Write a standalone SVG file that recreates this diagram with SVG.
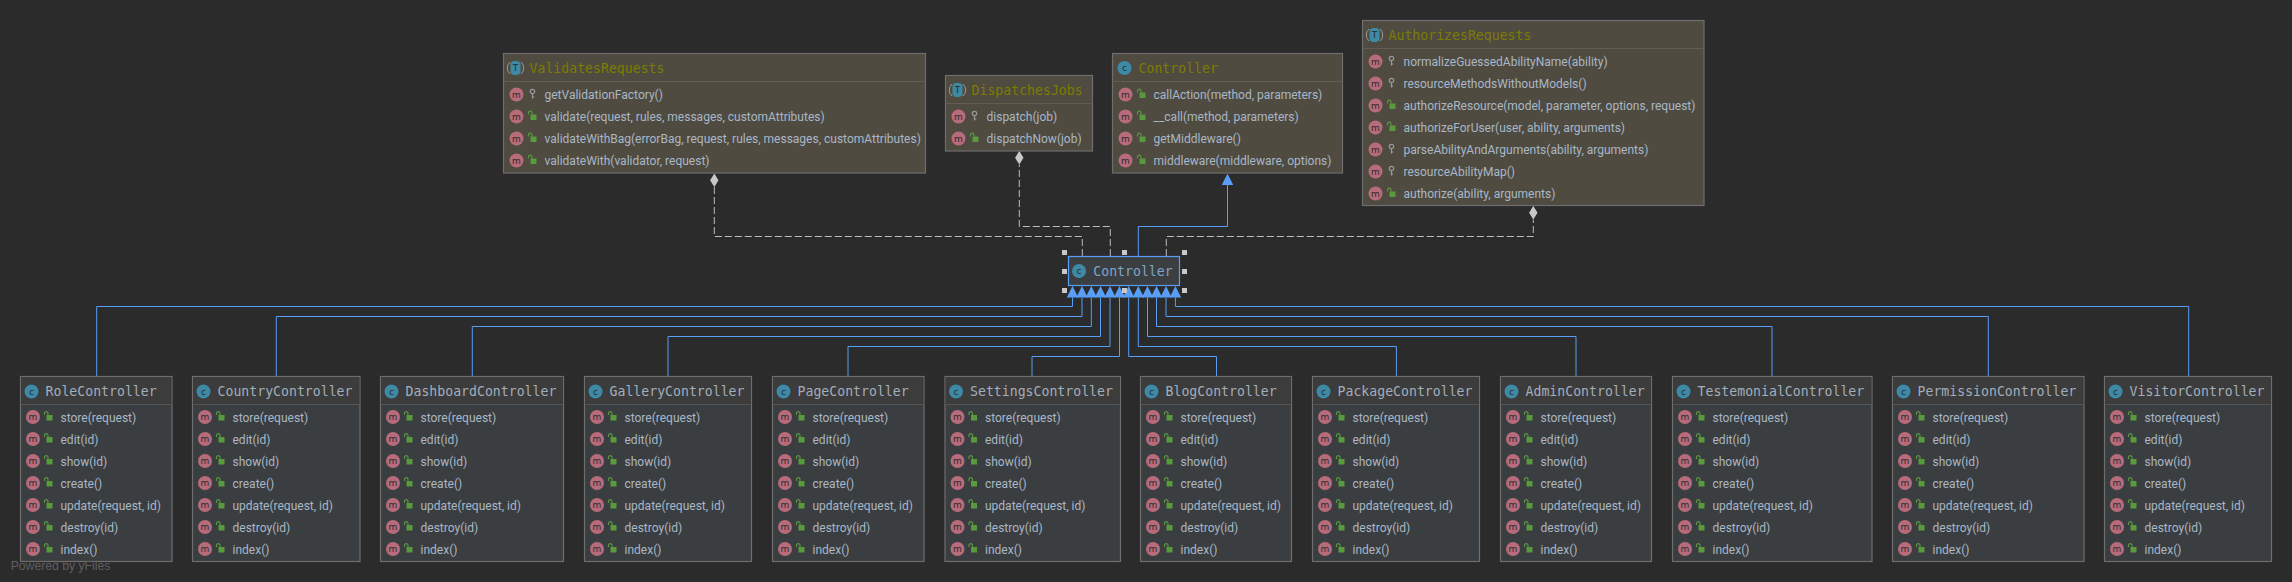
<svg xmlns="http://www.w3.org/2000/svg" width="2292" height="582" viewBox="0 0 2292 582">
<style>
.bg{fill:#2b2b2b}
.box{stroke:#6e6e6e;stroke-width:1.2;fill:#3b3e40}
.head{fill:#3c3c3c}
.sep{stroke:#555;stroke-width:1}
.tbox{stroke:#6e6e6e;stroke-width:1.2;fill:#4f4b41}
.thead{fill:#504c41}
.tsep{stroke:#615d53;stroke-width:1}
.title{font-family:"DejaVu Sans Mono","Liberation Mono",monospace;font-size:13.2px;fill:#a2aebb}
.ttitle{font-family:"DejaVu Sans Mono","Liberation Mono",monospace;font-size:13.2px;fill:#7c7c00}
.row{font-family:Roboto,"Open Sans",sans-serif;font-size:12px;fill:#a9b7c6}
.ic{font-family:"DejaVu Sans",sans-serif;font-size:9px;fill:#2b2b2b;text-anchor:middle}
.inh{fill:none;stroke:#589df6;stroke-width:1;marker-end:url(#tri)}
.dep{fill:none;stroke:#bcbcbc;stroke-width:1;stroke-dasharray:7 3;marker-end:url(#dia)}
.h{fill:#c8c8c8}
</style>
<defs>
<marker id="tri" markerUnits="userSpaceOnUse" markerWidth="11.5" markerHeight="11.4" refX="0" refY="5.7" orient="auto"><path d="M0,0L11.4,5.7L0,11.4z" fill="#589df6"/></marker>
<marker id="dia" markerUnits="userSpaceOnUse" markerWidth="14" markerHeight="9" refX="0" refY="4.2" orient="auto"><path d="M0,4.2L6.8,0L13.6,4.2L6.8,8.4z" fill="#c8c8c8"/></marker>
<g id="m"><circle r="7" fill="#b86b7a"/><text class="ic" y="3">m</text></g>
<g id="c"><circle r="7" fill="#3d89a6"/><text class="ic" y="3">c</text></g>
<g id="t"><path d="M-5.5,-6A8,8 0 0 0 -5.5,6M5.5,-6A8,8 0 0 1 5.5,6" fill="none" stroke="#9a9a9a" stroke-width="1"/><rect x="-5" y="-7" width="10" height="14" rx="4" fill="#3d89a6"/><text class="ic" y="3">T</text></g>
<g id="l"><rect x="-2" y="-2" width="6" height="5.5" fill="#5a9a3f"/><path d="M-0.5,-2V-4A1.8,1.8 0 0 0 -4,-4V-2" fill="none" stroke="#5a9a3f" stroke-width="1.1"/></g>
<g id="k"><circle cy="-3" r="2.2" fill="none" stroke="#9a9a9a" stroke-width="1.2"/><path d="M0,-1V4M0,2.5H1.8" fill="none" stroke="#9a9a9a" stroke-width="1.2"/></g>
</defs>
<rect class="bg" width="2292" height="582"/>
<g id="connectors">
<path class="inh" d="M96.7,376V306.5H1072.5V297.5"/>
<path class="inh" d="M276.3,376V316.5H1082V297.5"/>
<path class="inh" d="M472.3,376V326.5H1091.3V297.5"/>
<path class="inh" d="M668,376V336.5H1100.5V297.5"/>
<path class="inh" d="M848,376V346.5H1110V297.5"/>
<path class="inh" d="M1032,376V356.5H1119.5V297.5"/>
<path class="inh" d="M1216.5,376V356.5H1128.7V297.5"/>
<path class="inh" d="M1396.4,376V346.5H1138.3V297.5"/>
<path class="inh" d="M1576,376V336.5H1147.5V297.5"/>
<path class="inh" d="M1772,376V326.5H1156.5V297.5"/>
<path class="inh" d="M1988.3,376V316.5H1166V297.5"/>
<path class="inh" d="M2188.7,376V306.5H1175.4V297.5"/>
<path class="inh" d="M1138.3,256V226.5H1227.5V185"/>
<path class="dep" d="M1082.3,256V236.5H714.3V187"/>
<path class="dep" d="M1110.3,256V226.5H1019.3V164.5"/>
<path class="dep" d="M1166.3,256V236.5H1533.3V219.5"/>
</g>
<g id="ValidatesRequests" transform="translate(503.5,53.5)">
<rect class="tbox" width="422" height="119.5"/><line class="tsep" x1="0" x2="422" y1="28" y2="28"/>
<use href="#t" x="12" y="14.5"/><text class="ttitle" x="26" y="19.5">ValidatesRequests</text>
<use href="#m" x="13" y="41"/><use href="#k" x="29" y="41"/><text class="row" x="41" y="45.5">getValidationFactory()</text>
<use href="#m" x="13" y="63"/><use href="#l" x="29" y="63"/><text class="row" x="41" y="67.5">validate(request, rules, messages, customAttributes)</text>
<use href="#m" x="13" y="85"/><use href="#l" x="29" y="85"/><text class="row" x="41" y="89.5">validateWithBag(errorBag, request, rules, messages, customAttributes)</text>
<use href="#m" x="13" y="107"/><use href="#l" x="29" y="107"/><text class="row" x="41" y="111.5">validateWith(validator, request)</text>
</g>
<g id="DispatchesJobs" transform="translate(945.5,75.5)">
<rect class="tbox" width="147" height="75.5"/><line class="tsep" x1="0" x2="147" y1="28" y2="28"/>
<use href="#t" x="12" y="14.5"/><text class="ttitle" x="26" y="19.5">DispatchesJobs</text>
<use href="#m" x="13" y="41"/><use href="#k" x="29" y="41"/><text class="row" x="41" y="45.5">dispatch(job)</text>
<use href="#m" x="13" y="63"/><use href="#l" x="29" y="63"/><text class="row" x="41" y="67.5">dispatchNow(job)</text>
</g>
<g id="ControllerBase" transform="translate(1112.5,53.5)">
<rect class="tbox" width="230" height="119.5"/><line class="tsep" x1="0" x2="230" y1="28" y2="28"/>
<use href="#c" x="12" y="14.5"/><text class="ttitle" x="26" y="19.5">Controller</text>
<use href="#m" x="13" y="41"/><use href="#l" x="29" y="41"/><text class="row" x="41" y="45.5">callAction(method, parameters)</text>
<use href="#m" x="13" y="63"/><use href="#l" x="29" y="63"/><text class="row" x="41" y="67.5">__call(method, parameters)</text>
<use href="#m" x="13" y="85"/><use href="#l" x="29" y="85"/><text class="row" x="41" y="89.5">getMiddleware()</text>
<use href="#m" x="13" y="107"/><use href="#l" x="29" y="107"/><text class="row" x="41" y="111.5">middleware(middleware, options)</text>
</g>
<g id="AuthorizesRequests" transform="translate(1362.5,20.5)">
<rect class="tbox" width="341.5" height="185"/><line class="tsep" x1="0" x2="341.5" y1="28" y2="28"/>
<use href="#t" x="12" y="14.5"/><text class="ttitle" x="26" y="19.5">AuthorizesRequests</text>
<use href="#m" x="13" y="41"/><use href="#k" x="29" y="41"/><text class="row" x="41" y="45.5">normalizeGuessedAbilityName(ability)</text>
<use href="#m" x="13" y="63"/><use href="#k" x="29" y="63"/><text class="row" x="41" y="67.5">resourceMethodsWithoutModels()</text>
<use href="#m" x="13" y="85"/><use href="#l" x="29" y="85"/><text class="row" x="41" y="89.5">authorizeResource(model, parameter, options, request)</text>
<use href="#m" x="13" y="107"/><use href="#l" x="29" y="107"/><text class="row" x="41" y="111.5">authorizeForUser(user, ability, arguments)</text>
<use href="#m" x="13" y="129"/><use href="#k" x="29" y="129"/><text class="row" x="41" y="133.5">parseAbilityAndArguments(ability, arguments)</text>
<use href="#m" x="13" y="151"/><use href="#k" x="29" y="151"/><text class="row" x="41" y="155.5">resourceAbilityMap()</text>
<use href="#m" x="13" y="173"/><use href="#l" x="29" y="173"/><text class="row" x="41" y="177.5">authorize(ability, arguments)</text>
</g>
<g id="Controller">
<rect x="1068.5" y="256.5" width="111" height="29" fill="#3c3f41" stroke="#589df6" stroke-width="1.2"/>
<use href="#c" x="1079" y="271"/>
<text class="title" x="1093.3" y="276" style="fill:#7ea5c8">Controller</text>
<rect class="h" x="1062" y="250" width="5" height="5"/><rect class="h" x="1122" y="250" width="5" height="5"/><rect class="h" x="1182" y="250" width="5" height="5"/>
<rect class="h" x="1062" y="269" width="5" height="5"/><rect class="h" x="1182" y="269" width="5" height="5"/>
<rect class="h" x="1062" y="288" width="5" height="5"/><rect class="h" x="1122" y="288" width="5" height="5"/><rect class="h" x="1182" y="288" width="5" height="5"/>
</g>
<g id="RoleController" transform="translate(20.5,376.5)">
<rect class="box" width="151.5" height="185"/><rect class="head" x="0.6" y="0.6" width="150.3" height="27"/><line class="sep" x1="0" x2="151.5" y1="28" y2="28"/>
<use href="#c" x="11" y="15"/><text class="title" x="25" y="19.5">RoleController</text>
<use href="#m" x="12.5" y="40.5"/><use href="#l" x="28" y="40.5"/><text class="row" x="40" y="45.5">store(request)</text>
<use href="#m" x="12.5" y="62.5"/><use href="#l" x="28" y="62.5"/><text class="row" x="40" y="67.5">edit(id)</text>
<use href="#m" x="12.5" y="84.5"/><use href="#l" x="28" y="84.5"/><text class="row" x="40" y="89.5">show(id)</text>
<use href="#m" x="12.5" y="106.5"/><use href="#l" x="28" y="106.5"/><text class="row" x="40" y="111.5">create()</text>
<use href="#m" x="12.5" y="128.5"/><use href="#l" x="28" y="128.5"/><text class="row" x="40" y="133.5">update(request, id)</text>
<use href="#m" x="12.5" y="150.5"/><use href="#l" x="28" y="150.5"/><text class="row" x="40" y="155.5">destroy(id)</text>
<use href="#m" x="12.5" y="172.5"/><use href="#l" x="28" y="172.5"/><text class="row" x="40" y="177.5">index()</text>
</g>
<g id="CountryController" transform="translate(192.5,376.5)">
<rect class="box" width="167.5" height="185"/><rect class="head" x="0.6" y="0.6" width="166.3" height="27"/><line class="sep" x1="0" x2="167.5" y1="28" y2="28"/>
<use href="#c" x="11" y="15"/><text class="title" x="25" y="19.5">CountryController</text>
<use href="#m" x="12.5" y="40.5"/><use href="#l" x="28" y="40.5"/><text class="row" x="40" y="45.5">store(request)</text>
<use href="#m" x="12.5" y="62.5"/><use href="#l" x="28" y="62.5"/><text class="row" x="40" y="67.5">edit(id)</text>
<use href="#m" x="12.5" y="84.5"/><use href="#l" x="28" y="84.5"/><text class="row" x="40" y="89.5">show(id)</text>
<use href="#m" x="12.5" y="106.5"/><use href="#l" x="28" y="106.5"/><text class="row" x="40" y="111.5">create()</text>
<use href="#m" x="12.5" y="128.5"/><use href="#l" x="28" y="128.5"/><text class="row" x="40" y="133.5">update(request, id)</text>
<use href="#m" x="12.5" y="150.5"/><use href="#l" x="28" y="150.5"/><text class="row" x="40" y="155.5">destroy(id)</text>
<use href="#m" x="12.5" y="172.5"/><use href="#l" x="28" y="172.5"/><text class="row" x="40" y="177.5">index()</text>
</g>
<g id="DashboardController" transform="translate(380.5,376.5)">
<rect class="box" width="183" height="185"/><rect class="head" x="0.6" y="0.6" width="181.8" height="27"/><line class="sep" x1="0" x2="183" y1="28" y2="28"/>
<use href="#c" x="11" y="15"/><text class="title" x="25" y="19.5">DashboardController</text>
<use href="#m" x="12.5" y="40.5"/><use href="#l" x="28" y="40.5"/><text class="row" x="40" y="45.5">store(request)</text>
<use href="#m" x="12.5" y="62.5"/><use href="#l" x="28" y="62.5"/><text class="row" x="40" y="67.5">edit(id)</text>
<use href="#m" x="12.5" y="84.5"/><use href="#l" x="28" y="84.5"/><text class="row" x="40" y="89.5">show(id)</text>
<use href="#m" x="12.5" y="106.5"/><use href="#l" x="28" y="106.5"/><text class="row" x="40" y="111.5">create()</text>
<use href="#m" x="12.5" y="128.5"/><use href="#l" x="28" y="128.5"/><text class="row" x="40" y="133.5">update(request, id)</text>
<use href="#m" x="12.5" y="150.5"/><use href="#l" x="28" y="150.5"/><text class="row" x="40" y="155.5">destroy(id)</text>
<use href="#m" x="12.5" y="172.5"/><use href="#l" x="28" y="172.5"/><text class="row" x="40" y="177.5">index()</text>
</g>
<g id="GalleryController" transform="translate(584.5,376.5)">
<rect class="box" width="167" height="185"/><rect class="head" x="0.6" y="0.6" width="165.8" height="27"/><line class="sep" x1="0" x2="167" y1="28" y2="28"/>
<use href="#c" x="11" y="15"/><text class="title" x="25" y="19.5">GalleryController</text>
<use href="#m" x="12.5" y="40.5"/><use href="#l" x="28" y="40.5"/><text class="row" x="40" y="45.5">store(request)</text>
<use href="#m" x="12.5" y="62.5"/><use href="#l" x="28" y="62.5"/><text class="row" x="40" y="67.5">edit(id)</text>
<use href="#m" x="12.5" y="84.5"/><use href="#l" x="28" y="84.5"/><text class="row" x="40" y="89.5">show(id)</text>
<use href="#m" x="12.5" y="106.5"/><use href="#l" x="28" y="106.5"/><text class="row" x="40" y="111.5">create()</text>
<use href="#m" x="12.5" y="128.5"/><use href="#l" x="28" y="128.5"/><text class="row" x="40" y="133.5">update(request, id)</text>
<use href="#m" x="12.5" y="150.5"/><use href="#l" x="28" y="150.5"/><text class="row" x="40" y="155.5">destroy(id)</text>
<use href="#m" x="12.5" y="172.5"/><use href="#l" x="28" y="172.5"/><text class="row" x="40" y="177.5">index()</text>
</g>
<g id="PageController" transform="translate(772.5,376.5)">
<rect class="box" width="151.5" height="185"/><rect class="head" x="0.6" y="0.6" width="150.3" height="27"/><line class="sep" x1="0" x2="151.5" y1="28" y2="28"/>
<use href="#c" x="11" y="15"/><text class="title" x="25" y="19.5">PageController</text>
<use href="#m" x="12.5" y="40.5"/><use href="#l" x="28" y="40.5"/><text class="row" x="40" y="45.5">store(request)</text>
<use href="#m" x="12.5" y="62.5"/><use href="#l" x="28" y="62.5"/><text class="row" x="40" y="67.5">edit(id)</text>
<use href="#m" x="12.5" y="84.5"/><use href="#l" x="28" y="84.5"/><text class="row" x="40" y="89.5">show(id)</text>
<use href="#m" x="12.5" y="106.5"/><use href="#l" x="28" y="106.5"/><text class="row" x="40" y="111.5">create()</text>
<use href="#m" x="12.5" y="128.5"/><use href="#l" x="28" y="128.5"/><text class="row" x="40" y="133.5">update(request, id)</text>
<use href="#m" x="12.5" y="150.5"/><use href="#l" x="28" y="150.5"/><text class="row" x="40" y="155.5">destroy(id)</text>
<use href="#m" x="12.5" y="172.5"/><use href="#l" x="28" y="172.5"/><text class="row" x="40" y="177.5">index()</text>
</g>
<g id="SettingsController" transform="translate(945,376.5)">
<rect class="box" width="175.5" height="185"/><rect class="head" x="0.6" y="0.6" width="174.3" height="27"/><line class="sep" x1="0" x2="175.5" y1="28" y2="28"/>
<use href="#c" x="11" y="15"/><text class="title" x="25" y="19.5">SettingsController</text>
<use href="#m" x="12.5" y="40.5"/><use href="#l" x="28" y="40.5"/><text class="row" x="40" y="45.5">store(request)</text>
<use href="#m" x="12.5" y="62.5"/><use href="#l" x="28" y="62.5"/><text class="row" x="40" y="67.5">edit(id)</text>
<use href="#m" x="12.5" y="84.5"/><use href="#l" x="28" y="84.5"/><text class="row" x="40" y="89.5">show(id)</text>
<use href="#m" x="12.5" y="106.5"/><use href="#l" x="28" y="106.5"/><text class="row" x="40" y="111.5">create()</text>
<use href="#m" x="12.5" y="128.5"/><use href="#l" x="28" y="128.5"/><text class="row" x="40" y="133.5">update(request, id)</text>
<use href="#m" x="12.5" y="150.5"/><use href="#l" x="28" y="150.5"/><text class="row" x="40" y="155.5">destroy(id)</text>
<use href="#m" x="12.5" y="172.5"/><use href="#l" x="28" y="172.5"/><text class="row" x="40" y="177.5">index()</text>
</g>
<g id="BlogController" transform="translate(1140.5,376.5)">
<rect class="box" width="151" height="185"/><rect class="head" x="0.6" y="0.6" width="149.8" height="27"/><line class="sep" x1="0" x2="151" y1="28" y2="28"/>
<use href="#c" x="11" y="15"/><text class="title" x="25" y="19.5">BlogController</text>
<use href="#m" x="12.5" y="40.5"/><use href="#l" x="28" y="40.5"/><text class="row" x="40" y="45.5">store(request)</text>
<use href="#m" x="12.5" y="62.5"/><use href="#l" x="28" y="62.5"/><text class="row" x="40" y="67.5">edit(id)</text>
<use href="#m" x="12.5" y="84.5"/><use href="#l" x="28" y="84.5"/><text class="row" x="40" y="89.5">show(id)</text>
<use href="#m" x="12.5" y="106.5"/><use href="#l" x="28" y="106.5"/><text class="row" x="40" y="111.5">create()</text>
<use href="#m" x="12.5" y="128.5"/><use href="#l" x="28" y="128.5"/><text class="row" x="40" y="133.5">update(request, id)</text>
<use href="#m" x="12.5" y="150.5"/><use href="#l" x="28" y="150.5"/><text class="row" x="40" y="155.5">destroy(id)</text>
<use href="#m" x="12.5" y="172.5"/><use href="#l" x="28" y="172.5"/><text class="row" x="40" y="177.5">index()</text>
</g>
<g id="PackageController" transform="translate(1312.5,376.5)">
<rect class="box" width="167" height="185"/><rect class="head" x="0.6" y="0.6" width="165.8" height="27"/><line class="sep" x1="0" x2="167" y1="28" y2="28"/>
<use href="#c" x="11" y="15"/><text class="title" x="25" y="19.5">PackageController</text>
<use href="#m" x="12.5" y="40.5"/><use href="#l" x="28" y="40.5"/><text class="row" x="40" y="45.5">store(request)</text>
<use href="#m" x="12.5" y="62.5"/><use href="#l" x="28" y="62.5"/><text class="row" x="40" y="67.5">edit(id)</text>
<use href="#m" x="12.5" y="84.5"/><use href="#l" x="28" y="84.5"/><text class="row" x="40" y="89.5">show(id)</text>
<use href="#m" x="12.5" y="106.5"/><use href="#l" x="28" y="106.5"/><text class="row" x="40" y="111.5">create()</text>
<use href="#m" x="12.5" y="128.5"/><use href="#l" x="28" y="128.5"/><text class="row" x="40" y="133.5">update(request, id)</text>
<use href="#m" x="12.5" y="150.5"/><use href="#l" x="28" y="150.5"/><text class="row" x="40" y="155.5">destroy(id)</text>
<use href="#m" x="12.5" y="172.5"/><use href="#l" x="28" y="172.5"/><text class="row" x="40" y="177.5">index()</text>
</g>
<g id="AdminController" transform="translate(1500.5,376.5)">
<rect class="box" width="151" height="185"/><rect class="head" x="0.6" y="0.6" width="149.8" height="27"/><line class="sep" x1="0" x2="151" y1="28" y2="28"/>
<use href="#c" x="11" y="15"/><text class="title" x="25" y="19.5">AdminController</text>
<use href="#m" x="12.5" y="40.5"/><use href="#l" x="28" y="40.5"/><text class="row" x="40" y="45.5">store(request)</text>
<use href="#m" x="12.5" y="62.5"/><use href="#l" x="28" y="62.5"/><text class="row" x="40" y="67.5">edit(id)</text>
<use href="#m" x="12.5" y="84.5"/><use href="#l" x="28" y="84.5"/><text class="row" x="40" y="89.5">show(id)</text>
<use href="#m" x="12.5" y="106.5"/><use href="#l" x="28" y="106.5"/><text class="row" x="40" y="111.5">create()</text>
<use href="#m" x="12.5" y="128.5"/><use href="#l" x="28" y="128.5"/><text class="row" x="40" y="133.5">update(request, id)</text>
<use href="#m" x="12.5" y="150.5"/><use href="#l" x="28" y="150.5"/><text class="row" x="40" y="155.5">destroy(id)</text>
<use href="#m" x="12.5" y="172.5"/><use href="#l" x="28" y="172.5"/><text class="row" x="40" y="177.5">index()</text>
</g>
<g id="TestemonialController" transform="translate(1672.5,376.5)">
<rect class="box" width="199.5" height="185"/><rect class="head" x="0.6" y="0.6" width="198.3" height="27"/><line class="sep" x1="0" x2="199.5" y1="28" y2="28"/>
<use href="#c" x="11" y="15"/><text class="title" x="25" y="19.5">TestemonialController</text>
<use href="#m" x="12.5" y="40.5"/><use href="#l" x="28" y="40.5"/><text class="row" x="40" y="45.5">store(request)</text>
<use href="#m" x="12.5" y="62.5"/><use href="#l" x="28" y="62.5"/><text class="row" x="40" y="67.5">edit(id)</text>
<use href="#m" x="12.5" y="84.5"/><use href="#l" x="28" y="84.5"/><text class="row" x="40" y="89.5">show(id)</text>
<use href="#m" x="12.5" y="106.5"/><use href="#l" x="28" y="106.5"/><text class="row" x="40" y="111.5">create()</text>
<use href="#m" x="12.5" y="128.5"/><use href="#l" x="28" y="128.5"/><text class="row" x="40" y="133.5">update(request, id)</text>
<use href="#m" x="12.5" y="150.5"/><use href="#l" x="28" y="150.5"/><text class="row" x="40" y="155.5">destroy(id)</text>
<use href="#m" x="12.5" y="172.5"/><use href="#l" x="28" y="172.5"/><text class="row" x="40" y="177.5">index()</text>
</g>
<g id="PermissionController" transform="translate(1892.5,376.5)">
<rect class="box" width="191.5" height="185"/><rect class="head" x="0.6" y="0.6" width="190.3" height="27"/><line class="sep" x1="0" x2="191.5" y1="28" y2="28"/>
<use href="#c" x="11" y="15"/><text class="title" x="25" y="19.5">PermissionController</text>
<use href="#m" x="12.5" y="40.5"/><use href="#l" x="28" y="40.5"/><text class="row" x="40" y="45.5">store(request)</text>
<use href="#m" x="12.5" y="62.5"/><use href="#l" x="28" y="62.5"/><text class="row" x="40" y="67.5">edit(id)</text>
<use href="#m" x="12.5" y="84.5"/><use href="#l" x="28" y="84.5"/><text class="row" x="40" y="89.5">show(id)</text>
<use href="#m" x="12.5" y="106.5"/><use href="#l" x="28" y="106.5"/><text class="row" x="40" y="111.5">create()</text>
<use href="#m" x="12.5" y="128.5"/><use href="#l" x="28" y="128.5"/><text class="row" x="40" y="133.5">update(request, id)</text>
<use href="#m" x="12.5" y="150.5"/><use href="#l" x="28" y="150.5"/><text class="row" x="40" y="155.5">destroy(id)</text>
<use href="#m" x="12.5" y="172.5"/><use href="#l" x="28" y="172.5"/><text class="row" x="40" y="177.5">index()</text>
</g>
<g id="VisitorController" transform="translate(2104.5,376.5)">
<rect class="box" width="167" height="185"/><rect class="head" x="0.6" y="0.6" width="165.8" height="27"/><line class="sep" x1="0" x2="167" y1="28" y2="28"/>
<use href="#c" x="11" y="15"/><text class="title" x="25" y="19.5">VisitorController</text>
<use href="#m" x="12.5" y="40.5"/><use href="#l" x="28" y="40.5"/><text class="row" x="40" y="45.5">store(request)</text>
<use href="#m" x="12.5" y="62.5"/><use href="#l" x="28" y="62.5"/><text class="row" x="40" y="67.5">edit(id)</text>
<use href="#m" x="12.5" y="84.5"/><use href="#l" x="28" y="84.5"/><text class="row" x="40" y="89.5">show(id)</text>
<use href="#m" x="12.5" y="106.5"/><use href="#l" x="28" y="106.5"/><text class="row" x="40" y="111.5">create()</text>
<use href="#m" x="12.5" y="128.5"/><use href="#l" x="28" y="128.5"/><text class="row" x="40" y="133.5">update(request, id)</text>
<use href="#m" x="12.5" y="150.5"/><use href="#l" x="28" y="150.5"/><text class="row" x="40" y="155.5">destroy(id)</text>
<use href="#m" x="12.5" y="172.5"/><use href="#l" x="28" y="172.5"/><text class="row" x="40" y="177.5">index()</text>
</g>
<text x="10.7" y="570" font-family="'Liberation Sans',sans-serif" font-size="12.2" fill="#5f5f5f">Powered by yFiles</text>
</svg>
